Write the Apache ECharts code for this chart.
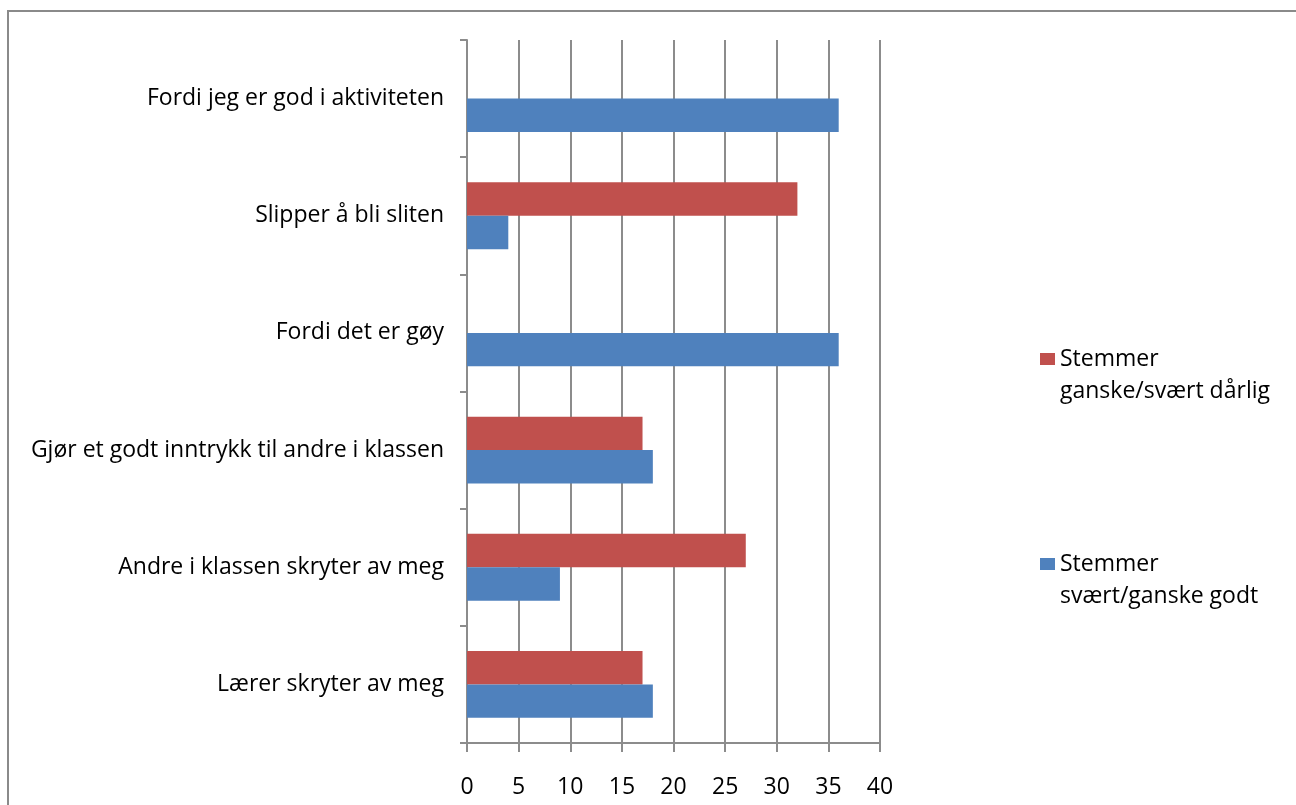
<!DOCTYPE html>
<html>
<head>
<meta charset="utf-8">
<script src="https://cdn.jsdelivr.net/npm/echarts@6/dist/echarts.min.js"></script>
<style>
html,body{margin:0;padding:0;background:#fff;}
#chart{width:1296px;height:805px;}
</style>
</head>
<body>
<div id="chart"></div>
<script>
const categories = [
  "Lærer skryter av meg",
  "Andre i klassen skryter av meg",
  "Gjør et godt inntrykk til andre i klassen",
  "Fordi det er gøy",
  "Slipper å bli sliten",
  "Fordi jeg er god i aktiviteten"
];
const seriesGood = [18, 9, 18, 36, 4, 36];
const seriesBad = [17, 27, 17, 0, 32, 0];
const nameGood = "Stemmer svært/ganske godt";
const nameBad = "Stemmer ganske/svært dårlig";
const xTicks = { min: 0, max: 40, interval: 5 };

const FONT = "Open Sans";
const GRAY = "#8c8c8c";

const chart = echarts.init(document.getElementById('chart'));
const legendBase = {
  orient: 'vertical',
  left: 1040,
  padding: 0,
  itemWidth: 15,
  itemHeight: 12,
  icon: 'rect',
  formatter: function (n) { return ' \n' + n.replace(' ', '\n'); },
  textStyle: { fontFamily: FONT, fontSize: 23, color: '#000', lineHeight: 32 },
  itemGap: 0
};
chart.setOption({
  animation: false,
  backgroundColor: '#fff',
  graphic: [{
    type: 'rect',
    shape: { x: 8, y: 11, width: 1400, height: 900 },
    style: { fill: 'none', stroke: '#8a8a8a', lineWidth: 2 },
    silent: true
  }],
  legend: [
    Object.assign({}, legendBase, { top: 311, data: [nameBad] }),
    Object.assign({}, legendBase, { top: 516, data: [nameGood] })
  ],
  grid: { left: 467, right: 416, top: 40, bottom: 62, containLabel: false },
  xAxis: {
    type: 'value',
    min: xTicks.min, max: xTicks.max, interval: xTicks.interval,
    axisLine: { show: true, lineStyle: { color: GRAY, width: 2 } },
    axisTick: { show: true, length: 9, lineStyle: { color: GRAY, width: 2 } },
    splitLine: { show: true, lineStyle: { color: GRAY, width: 2 } },
    axisLabel: { fontFamily: FONT, fontSize: 23, color: '#000', margin: 33 }
  },
  yAxis: {
    type: 'category',
    data: categories,
    axisLine: { show: true, lineStyle: { color: GRAY, width: 2 } },
    axisTick: { show: true, length: 7, alignWithLabel: false, lineStyle: { color: GRAY, width: 2 } },
    axisLabel: { fontFamily: FONT, fontSize: 23, color: '#000', margin: 23 }
  },
  series: [
    {
      name: nameBad, type: 'bar', data: seriesBad,
      itemStyle: { color: '#C0504D' },
      barGap: '0%', barCategoryGap: '43%'
    },
    {
      name: nameGood, type: 'bar', data: seriesGood,
      itemStyle: { color: '#4F81BD' },
      barGap: '0%', barCategoryGap: '43%'
    }
  ]
});
</script>
</body>
</html>
